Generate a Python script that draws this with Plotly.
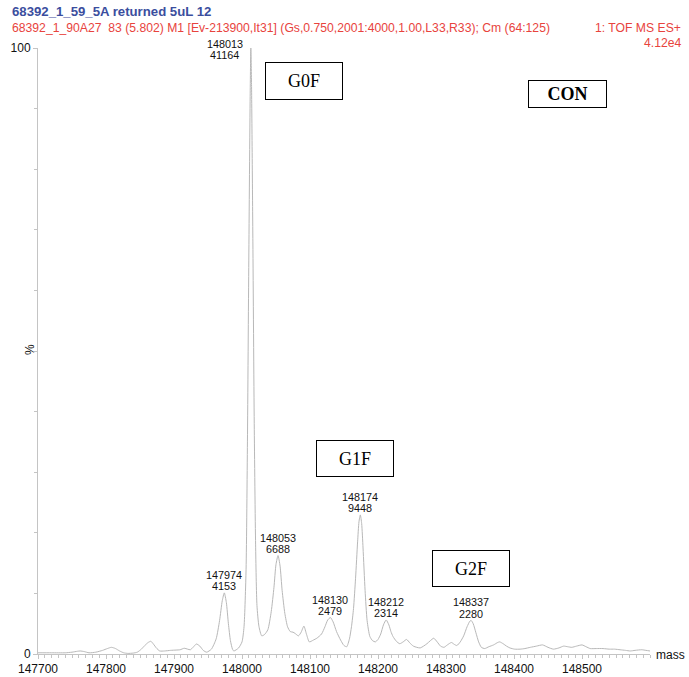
import plotly.graph_objects as go

# Deconvoluted intact-mass spectrum (relative intensity, % of base peak)
mass = [
    147700, 147720, 147740, 147750, 147758, 147762, 147768, 147775, 147785, 147795,
    147802, 147808, 147814, 147820, 147826, 147832, 147840, 147846, 147852, 147857,
    147862, 147866, 147870, 147874, 147879, 147886, 147895, 147903, 147909, 147915,
    147920, 147924, 147928, 147933, 147938, 147943, 147948, 147955, 147962, 147967,
    147971, 147977, 147980, 147983, 147986, 147988, 147995, 148000, 148003,
    148006, 148008, 148010, 148012, 148014, 148016, 148018, 148020, 148022,
    148025, 148029, 148033, 148038, 148043, 148047, 148050, 148056, 148059,
    148063, 148067, 148071, 148075, 148078, 148083, 148087, 148091, 148095, 148099,
    148105, 148110, 148117, 148122, 148126, 148134, 148139, 148145, 148150,
    148154, 148158, 148161, 148164, 148167, 148170, 148172, 148176, 148178,
    148181, 148184, 148188, 148192, 148196, 148200, 148204, 148208, 148216,
    148219, 148222, 148227, 148232, 148237, 148242, 148247, 148252, 148257, 148262,
    148267, 148272, 148277, 148282, 148287, 148292, 148297, 148302, 148308, 148312,
    148316, 148321, 148326, 148331, 148335, 148340, 148344, 148348, 148352,
    148357, 148363, 148370, 148376, 148379, 148384, 148389, 148394, 148401, 148409,
    148416, 148424, 148433, 148442, 148450, 148458, 148466, 148473, 148479, 148485,
    148492, 148500, 148506, 148512, 148521, 148531, 148540, 148548, 148556, 148564,
    148571, 148578, 148588, 148594, 148600,
]
intensity = [
    0.2, 0.2, 0.2, 0.3, 0.45, 0.5, 0.4, 0.2, 0.3, 0.6,
    0.9, 1.1, 0.9, 0.5, 0.2, 0.1, 0.15, 0.3, 0.8, 1.4,
    1.9, 2.1, 1.6, 1.0, 0.5, 0.5, 0.6, 0.65, 0.7, 0.95,
    0.8, 0.7, 1.1, 1.65, 1.3, 0.6, 0.3, 0.8, 2.5, 5.5,
    8.8, 8.5, 5.0, 2.2, 0.8, 0.5, 1.0, 2.0, 4.5,
    14.0, 35.0, 65.0, 92.0, 94.0, 68.0, 38.0, 18.0, 8.0,
    4.5, 3.0, 3.2, 4.0, 7.0, 11.0, 14.8, 14.5, 10.5,
    6.7, 4.5, 3.7, 3.6, 3.4, 3.0, 3.6, 4.6, 3.2, 2.0,
    2.3, 2.6, 3.3, 4.5, 5.6, 5.3, 3.7, 2.3, 1.4,
    1.2, 2.5, 4.5, 7.5, 12.5, 18.5, 21.8, 21.5, 17.5,
    10.5, 5.5, 2.9, 2.2, 2.0, 2.4, 3.3, 4.8, 4.8,
    3.7, 2.9, 2.1, 1.7, 2.0, 2.4, 1.8, 1.3, 1.1, 1.0,
    1.3, 1.7, 2.2, 2.6, 2.0, 1.3, 1.1, 1.5, 1.9, 1.6,
    1.4, 2.0, 3.0, 4.5, 5.4, 5.0, 3.5, 2.0, 1.1,
    0.9, 1.2, 1.5, 1.9, 2.0, 1.7, 1.3, 1.0, 0.8, 0.8,
    0.9, 1.1, 1.3, 1.5, 1.1, 0.8, 1.0, 1.3, 1.2, 1.1,
    1.3, 1.5, 1.2, 0.9, 0.9, 0.9, 0.8, 0.8, 0.7, 0.6,
    0.5, 0.6, 0.7, 0.6, 0.5,
]

# Labelled peak apexes (mass, absolute counts)
peak_mass = [147974, 148013, 148053, 148130, 148174, 148212, 148337]
peak_counts = [4153, 41164, 6688, 2479, 9448, 2314, 2280]

# Glycoform tags drawn in boxes
glyco_labels = ["G0F", "G1F", "G2F", "CON"]

base = max(peak_counts)
peak_pct = [c / base * 100 for c in peak_counts]

# merge apexes into the profile
pts = sorted(list(zip(mass, intensity)) + list(zip(peak_mass, peak_pct)))
xs = [p[0] for p in pts]
ys = [p[1] for p in pts]

fig = go.Figure()
fig.add_trace(go.Scatter(
    x=xs, y=ys, mode="lines",
    line=dict(color="#b8b8b8", width=1, shape="spline", smoothing=0.6),
    hoverinfo="skip", showlegend=False,
))

FONT = "Liberation Sans, Arial, sans-serif"
SERIF = "Liberation Serif, Times New Roman, serif"
axis_col = "#c4c4c4"

fig.update_layout(
    width=689, height=677,
    margin=dict(l=38, r=39, t=48, b=23, autoexpand=False),
    paper_bgcolor="white", plot_bgcolor="white",
    font=dict(family=FONT, size=11, color="#111111"),
    xaxis=dict(
        range=[147700, 148600], showgrid=False, zeroline=False, automargin=False,
        showline=True, linecolor=axis_col, linewidth=1,
        tickmode="array", tickvals=list(range(147700, 148600, 100)),
        ticktext=[str(v) for v in range(147700, 148600, 100)],
        ticks="outside", ticklen=4, tickcolor=axis_col,
        minor=dict(dtick=10, tick0=147700, ticks="outside", ticklen=3, tickcolor=axis_col),
        tickfont=dict(size=12, color="#111111"),
    ),
    yaxis=dict(
        range=[0, 100], showgrid=False, zeroline=False, automargin=False,
        showline=True, linecolor=axis_col, linewidth=1,
        tickmode="array", tickvals=[0, 100], ticktext=["0", "100"],
        ticks="outside", ticklen=4, tickcolor=axis_col,
        minor=dict(dtick=10, tick0=0, ticks="outside", ticklen=3, tickcolor=axis_col),
        tickfont=dict(size=12, color="#111111"),
    ),
)

ann = []
# peak labels: mass on upper line, counts below
for m, c, p in zip(peak_mass, peak_counts, peak_pct):
    top = p >= 99.9
    dx = -26 if top else 0
    y_lo = -7 if top else 6.5
    for txt, dy in ((str(m), y_lo + 11.5), (str(c), y_lo)):
        ann.append(dict(x=m, y=p, xref="x", yref="y", text=txt, showarrow=False,
                        xanchor="center", yanchor="middle",
                        xshift=dx, yshift=dy, font=dict(size=10.8, color="#111111")))

# glycoform boxes (paper coords, pixel size)
box_pos = {
    "G0F": (0.4346, 0.9455, 76, 36, False),
    "G1F": (0.5180, 0.3226, 76, 35, False),
    "G2F": (0.7075, 0.1411, 76, 35, False),
    "CON": (0.8652, 0.9240, 77, 26, True),
}
for lab in glyco_labels:
    bx, by, bw, bh, bold = box_pos[lab]
    ann.append(dict(x=bx, y=by, xref="paper", yref="paper", xanchor="center", yanchor="middle",
                    text=f"<b>{lab}</b>" if bold else lab,
                    showarrow=False, width=bw, height=bh, borderpad=0,
                    bordercolor="#000000", borderwidth=1, bgcolor="white",
                    font=dict(family=SERIF, size=18, color="#000000")))

# header text
hdr = dict(xref="paper", yref="paper", yanchor="middle", showarrow=False)
ann.append(dict(x=-0.0458, y=1.061, xanchor="left",
                text="<b>68392_1_59_5A returned 5uL 12</b>",
                font=dict(size=13.2, color="#3b4e9e"), **hdr))
ann.append(dict(x=-0.0458, y=1.033, xanchor="left",
                text="68392_1_90A27\u00a0\u00a083 (5.802) M1 [Ev-213900,It31] (Gs,0.750,2001:4000,1.00,L33,R33); Cm (64:125)",
                font=dict(size=12.2, color="#e8433d"), **hdr))
ann.append(dict(x=1.054, y=1.033, xanchor="right",
                text="1: TOF MS ES+", font=dict(size=12.2, color="#e8433d"), **hdr))
ann.append(dict(x=1.054, y=1.008, xanchor="right",
                text="4.12e4", font=dict(size=12.2, color="#e8433d"), **hdr))

# axis titles
ann.append(dict(x=-0.013, y=0.5017, xanchor="center", text="%", textangle=-90,
                font=dict(size=12, color="#111111"), **hdr))
ann.append(dict(x=1.0065, y=-0.002, xanchor="left", text="mass",
                font=dict(size=12, color="#111111"), **hdr))

fig.update_layout(annotations=ann)
fig.write_html("out.html")
